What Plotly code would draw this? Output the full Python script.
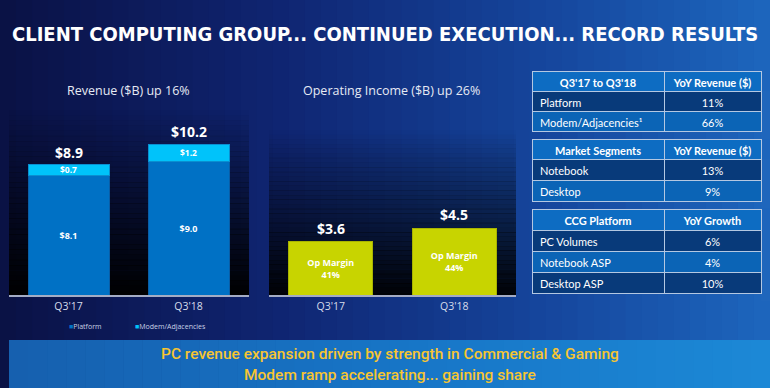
import plotly.graph_objects as go

# ---------------- data ----------------
categories = ["Q3'17", "Q3'18"]
platform_rev = [8.1, 9.0]
modem_rev = [0.7, 1.2]
revenue_total_labels = ["$8.9", "$10.2"]
op_income = [3.6, 4.5]
op_margin = ["41%", "44%"]

table1_header = ["Q3'17 to Q3'18", "YoY Revenue ($)"]
table1_names = ["Platform", "Modem/Adjacencies¹"]
table1_values = ["11%", "66%"]

table2_header = ["Market Segments", "YoY Revenue ($)"]
table2_names = ["Notebook", "Desktop"]
table2_values = ["13%", "9%"]

table3_header = ["CCG Platform", "YoY Growth"]
table3_names = ["PC Volumes", "Notebook ASP", "Desktop ASP"]
table3_values = ["6%", "4%", "10%"]

title_text = "CLIENT COMPUTING GROUP... CONTINUED EXECUTION... RECORD RESULTS"
banner_lines = ["PC revenue expansion driven by strength in Commercial & Gaming",
                "Modem ramp accelerating... gaining share"]

# ---------------- style ----------------
W, H = 770, 388
PLATFORM_C = "#0071c5"
MODEM_C = "#00c3fa"
OPINC_C = "#c8d400"
FONT = "Open Sans, Noto Sans, sans-serif"
TFONT = "Lato, Open Sans, sans-serif"
NBSP = "\u00a0"


def px(x):
    return x / W


def py(y):
    return 1 - y / H


def hexrgb(c):
    c = c.lstrip("#")
    return tuple(int(c[i:i + 2], 16) for i in (0, 2, 4))


def lerp_color(stops, t):
    for i in range(len(stops) - 1):
        t0, c0 = stops[i]
        t1, c1 = stops[i + 1]
        if t0 <= t <= t1:
            f = (t - t0) / (t1 - t0) if t1 > t0 else 0
            a, b = hexrgb(c0), hexrgb(c1)
            return "rgb(%d,%d,%d)" % tuple(round(a[k] + (b[k] - a[k]) * f) for k in range(3))
    return stops[-1][1]


shapes = []


def hgrad(x0, x1, y0, y1, stops, n):
    w = (x1 - x0) / n
    for i in range(n):
        t = (i + 0.5) / n
        shapes.append(dict(type="rect", xref="paper", yref="paper",
                           x0=px(x0 + i * w), x1=px(min(x1, x0 + (i + 1) * w + 0.6)),
                           y0=py(y1), y1=py(y0), line=dict(width=0),
                           fillcolor=lerp_color(stops, t), layer="below"))


def vfade(x0, x1, y0, y1, a0, a1, n, color="0,0,0"):
    h = (y1 - y0) / n
    for i in range(n):
        t = (i + 0.5) / n
        a = a0 + (a1 - a0) * t
        shapes.append(dict(type="rect", xref="paper", yref="paper",
                           x0=px(x0), x1=px(x1),
                           y0=py(min(y1, y0 + (i + 1) * h + 0.4)), y1=py(y0 + i * h),
                           line=dict(width=0),
                           fillcolor="rgba(%s,%.3f)" % (color, a), layer="below"))


# slide background (horizontal gradient)
hgrad(0, W, 0, H, [(0, "#0a1144"), (0.35, "#0f2470"), (0.7, "#15459c"), (1, "#1d66bd")], 48)
# chart panels fading to black
vfade(9, 249, 110, 296, 0.0, 1.0, 36)
vfade(269, 516, 130, 297, 0.0, 0.97, 36)
# bottom banner
hgrad(9, W, 340, H, [(0, "#165fae"), (0.5, "#1775c6"), (1, "#1c88d6")], 40)

# ---------------- traces ----------------
fig = go.Figure()

fig.add_trace(go.Bar(
    x=categories, y=platform_rev, name="Platform",
    marker=dict(color=PLATFORM_C, line=dict(color="#0a5da5", width=1)),
    text=["$%.1f" % v for v in platform_rev], textposition="inside",
    insidetextanchor="middle", constraintext="none",
    textfont=dict(color="white", size=9, family=FONT, weight="bold"),
    width=0.675, xaxis="x", yaxis="y", showlegend=False, hoverinfo="skip"))

fig.add_trace(go.Bar(
    x=categories, y=modem_rev, name="Modem/Adjacencies",
    marker=dict(color=MODEM_C, line=dict(color="#0a8fd0", width=1)),
    text=["$%.1f" % v for v in modem_rev], textposition="inside",
    insidetextanchor="middle", constraintext="none",
    textfont=dict(color="white", size=8.5, family=FONT, weight="bold"),
    width=0.675, xaxis="x", yaxis="y", showlegend=False, hoverinfo="skip"))

fig.add_trace(go.Bar(
    x=categories, y=op_income, name="Operating Income",
    marker=dict(color=OPINC_C, line=dict(color="#a8b400", width=1)),
    text=["Op Margin<br>%s" % m for m in op_margin], textposition="inside",
    insidetextanchor="middle", constraintext="none",
    textfont=dict(color="white", size=9, family=FONT, weight="bold"),
    width=0.68, xaxis="x2", yaxis="y2", showlegend=False, hoverinfo="skip"))

# tables
HEAD_C = "#0d6cc2"
DARK_C = "#083a7a"
MED_C = "#0b64b6"
LINE_C = "#b4c8e2"


def nb(s):
    return s.replace(" ", NBSP)


def add_table(header, names, values, top, head_h, cell_h):
    n = len(names)
    fills = [DARK_C if i % 2 == 0 else MED_C for i in range(n)]
    total = head_h + n * cell_h + 8
    top -= 1
    fig.add_trace(go.Table(
        domain=dict(x=[px(532), px(761)], y=[py(top + total), py(top)]),
        columnwidth=[132, 97],
        header=dict(values=[nb(h) for h in header],
                    fill_color=HEAD_C, line=dict(color=LINE_C, width=1),
                    align="center", height=head_h,
                    font=dict(color="white", size=11, family=TFONT, weight="bold")),
        cells=dict(values=[[nb(s) for s in names], [nb(s) for s in values]],
                   fill_color=[fills, fills], line=dict(color=LINE_C, width=1),
                   align=["left", "center"], height=cell_h,
                   font=dict(color="white", size=11, family=TFONT))))


add_table(table1_header, table1_names, table1_values, 72, 20, 20)
add_table(table2_header, table2_names, table2_values, 140, 20, 21)
add_table(table3_header, table3_names, table3_values, 210, 21, 21)

# ---------------- annotations ----------------
ann = []


def note(text, x, y, size, color, family=FONT, xanchor="center", yanchor="middle",
         xref="paper", yref="paper", weight="normal", yshift=0):
    ann.append(dict(text=text, x=x, y=y, xref=xref, yref=yref, showarrow=False,
                    xanchor=xanchor, yanchor=yanchor, yshift=yshift,
                    font=dict(family=family, size=size, color=color, weight=weight)))


note(title_text, px(385), py(34), 20, "white",
     family="DejaVu Sans Condensed, DejaVu Sans, sans-serif", weight="bold")
note("Revenue ($B) up 16%", px(128), py(90), 12.5, "#e6eaf4")
note("Operating Income ($B) up 26%", px(392), py(90), 12.5, "#e6eaf4")

for c, p, m, lab in zip(categories, platform_rev, modem_rev, revenue_total_labels):
    note("<b>%s</b>" % lab, c, p + m, 14, "white", xref="x", yref="y",
         yanchor="bottom", yshift=1)
for c, v in zip(categories, op_income):
    note("<b>$%.1f</b>" % v, c, v, 14, "white", xref="x2", yref="y2",
         yanchor="bottom", yshift=2)

# legend (as small text items)
note("<span style='color:%s'>■</span>Platform" % PLATFORM_C, px(67), py(326), 7,
     "#c9d2e6", xanchor="left")
note("<span style='color:%s'>■</span>Modem/Adjacencies" % MODEM_C, px(133), py(326), 7,
     "#c9d2e6", xanchor="left")

# banner text
note(banner_lines[0], px(390), py(354), 15.5, "#f7c531", family="Roboto, sans-serif",
     weight=500)
note(banner_lines[1], px(390), py(375), 15.5, "#f7c531", family="Roboto, sans-serif",
     weight=500)

# ---------------- layout ----------------
YMAX = 195 / 14.8
axis_common = dict(showline=True, linecolor="#a4acc4", linewidth=2, ticks="",
                   showgrid=False, zeroline=False, fixedrange=True,
                   tickfont=dict(family=FONT, size=10.5, color="#d6dcea"))
yaxis_common = dict(visible=False, range=[0, YMAX], showgrid=False, fixedrange=True)

fig.update_layout(
    width=W, height=H, margin=dict(l=0, r=0, t=0, b=0),
    paper_bgcolor="#0f2470", plot_bgcolor="rgba(0,0,0,0)",
    barmode="stack", showlegend=False,
    xaxis=dict(domain=[px(8.5), px(248.5)], anchor="y", **axis_common),
    yaxis=dict(domain=[py(295), py(100)], anchor="x", **yaxis_common),
    xaxis2=dict(domain=[px(269), px(516)], anchor="y2", **axis_common),
    yaxis2=dict(domain=[py(295), py(100)], anchor="x2", **yaxis_common),
    shapes=shapes, annotations=ann,
)

fig.write_html("out.html", config=dict(displayModeBar=False),
               post_script="document.body.style.margin='0';document.body.style.overflow='hidden';")
